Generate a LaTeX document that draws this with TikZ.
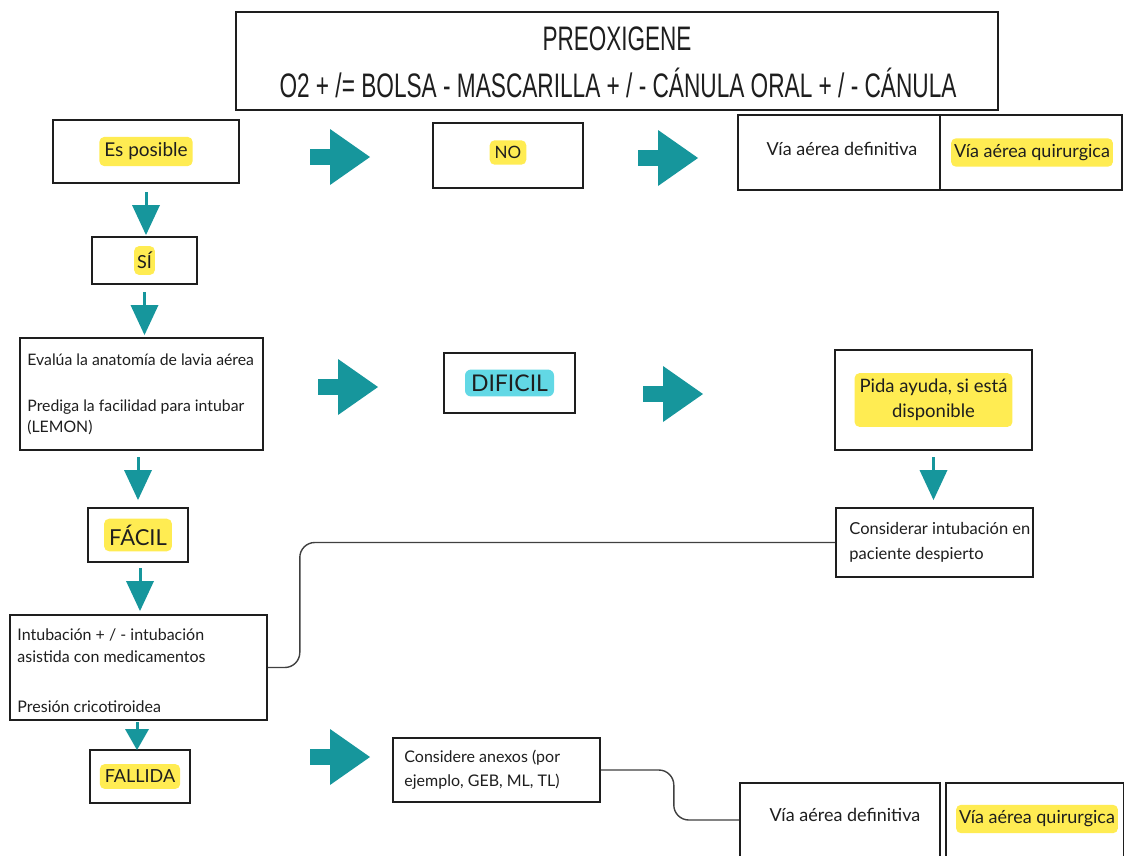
\documentclass[tikz,border=0pt]{standalone}
\usepackage{graphicx}
\usepackage{fontspec}
\setmainfont{Lato}
\newfontfamily\titlefont{Liberation Sans}
\usetikzlibrary{calc}
\definecolor{tealA}{RGB}{22,150,156}
\definecolor{hlyellow}{RGB}{255,236,82}
\definecolor{hlcyan}{RGB}{98,216,229}
\definecolor{ink}{RGB}{30,30,30}
\tikzset{
  box/.style={draw=ink,line width=1.6pt,fill=white,inner sep=0pt},
  hl/.style={fill=hlyellow,rounded corners=5pt,inner xsep=5pt,inner ysep=6pt,text=ink},
  hlc/.style={fill=hlcyan,rounded corners=6pt,inner xsep=6pt,inner ysep=5pt,text=ink},
  txt/.style={text=ink,inner sep=0pt},
  conn/.style={draw=ink!85,line width=1.4pt,rounded corners=15pt},
  darrow/.pic={\fill[tealA] (-14,13) -- (14,13) -- (0,43) -- cycle;
               \draw[tealA,line width=3pt] (0,0) -- (0,14);},
  darrowshort/.pic={\fill[tealA] (-12,7) -- (12,7) -- (0,28) -- cycle;
               \draw[tealA,line width=3pt] (0,0) -- (0,8);},
  rarrow/.pic={\fill[tealA] (-30,-8) rectangle (-5,8);
               \fill[tealA] (-10,-28) -- (30,0) -- (-10,28) -- cycle;}
}
\begin{document}
\begin{tikzpicture}[x=1pt,y=-1pt]
\useasboundingbox[fill=white] (0,0) rectangle (1124,855);
\clip (0,0) rectangle (1124,855);

% title
\node[box, minimum width=762pt, minimum height=98pt] (title) at (617,61) {};
\node[txt, anchor=base, font=\titlefont\fontsize{34}{40}\selectfont] (t1) at (617,50) {\resizebox{149pt}{\height}{PREOXIGENE}};
\node[txt, anchor=base, font=\titlefont\fontsize{34}{40}\selectfont] (t2) at (618,97) {\resizebox{677pt}{\height}{O2 + /= BOLSA - MASCARILLA + / - CÁNULA ORAL + / - CÁNULA}};

% left column
\node[box, minimum width=186pt, minimum height=63pt] (es) at (146,151.5) {};
\node[hl, font=\fontsize{19}{22}\selectfont] (tes) at (es) {Es posible};

\node[box, minimum width=105pt, minimum height=47pt] (si) at (144.5,260.5) {};
\node[hl, inner xsep=3pt, font=\fontsize{18}{21}\selectfont] (tsi) at (si) {SÍ};

\node[box, minimum width=243pt, minimum height=112pt] (eval) at (141.5,394) {};
\node[txt, anchor=west, align=left, font=\fontsize{15.8}{21}\selectfont] (teval) at ([xshift=8pt]eval.west) {Evalúa la anatomía de lavia aérea\\[25pt]Prediga la facilidad para intubar\\(LEMON)};

\node[box, minimum width=100pt, minimum height=54pt] (facil) at (138,535) {};
\node[hl, font=\fontsize{22}{25}\selectfont] (tfacil) at (facil) {FÁCIL};

\node[box, minimum width=257pt, minimum height=105pt] (intub) at (138.5,667.5) {};
\node[txt, anchor=west, align=left, font=\fontsize{16}{22}\selectfont] (tintub) at ([xshift=8pt,yshift=-3pt]intub.west) {Intubación + / - intubación\\asistida con medicamentos\\[28pt]Presión cricotiroidea};

\node[box, minimum width=100pt, minimum height=53pt] (fall) at (140,776.5) {};
\node[hl, font=\fontsize{18}{21}\selectfont] (tfall) at (fall) {FALLIDA};

% top row
\node[box, minimum width=150pt, minimum height=65pt] (no) at (508,155.5) {};
\node[hl, font=\fontsize{17}{20}\selectfont] (tno) at ([yshift=3pt]no.center) {NO};

\node[box, minimum width=202pt, minimum height=75pt] (def1) at (839,152.5) {};
\node[txt, font=\fontsize{18}{21}\selectfont] (tdef1) at ([xshift=3pt,yshift=4pt]def1.center) {Vía aérea definitiva};
\node[box, minimum width=182pt, minimum height=75pt] (quir1) at (1031,152.5) {};
\node[hl, inner xsep=3pt, font=\fontsize{18}{21}\selectfont] (tquir1) at ([xshift=1pt]quir1.center) {Vía aérea quirurgica};

% middle row
\node[box, minimum width=131pt, minimum height=60pt] (dif) at (509.5,383) {};
\node[hlc, font=\fontsize{23}{26}\selectfont] (tdif) at (dif) {DIFICIL};

\node[box, minimum width=197pt, minimum height=100pt] (pida) at (933.5,400) {};
\node[hl, align=center, font=\fontsize{18.5}{25}\selectfont] (tpida) at (pida) {Pida ayuda, si está\\disponible};

\node[box, minimum width=197pt, minimum height=69pt] (cons) at (934.5,542.5) {};
\node[txt, anchor=west, align=left, font=\fontsize{16.5}{25}\selectfont] (tcons) at ([xshift=14pt]cons.west) {Considerar intubación en\\paciente despierto};

% bottom row
\node[box, minimum width=207pt, minimum height=64pt] (anex) at (496.5,770) {};
\node[txt, anchor=west, align=left, font=\fontsize{16}{24}\selectfont] (tanex) at ([xshift=12pt]anex.west) {Considere anexos (por\\ejemplo, GEB, ML, TL)};

\node[box, minimum width=200pt, minimum height=74pt] (def2) at (840,820) {};
\node[txt, font=\fontsize{18}{21}\selectfont] (tdef2) at ([xshift=5pt,yshift=5pt]def2.center) {Vía aérea definitiva};
\node[box, minimum width=178pt, minimum height=74pt] (quir2) at (1035,820) {};
\node[hl, inner xsep=3pt, font=\fontsize{18}{21}\selectfont] (tquir2) at ([xshift=2pt,yshift=1pt]quir2.center) {Vía aérea quirurgica};

% connectors
\draw[conn] (intub.east) -- ++(32,0) |- (cons.west);
\draw[conn] (anex.east) -- ++(73,0) |- (def2.west);

% down arrows
\pic at (es.south |- 0,192) {darrow};
\pic at (si.south |- 0,292) {darrow};
\pic at (facil.north |- 0,457) {darrow};
\pic at ([xshift=2pt]facil.south |- 0,568) {darrow};
\pic at ([xshift=-3pt]fall.north |- 0,722) {darrowshort};
\pic at (pida.south |- 0,457) {darrow};

% right arrows
\pic at (340,157) {rarrow};
\pic at (668,158) {rarrow};
\pic at (348,387) {rarrow};
\pic at (673,394) {rarrow};
\pic at (340,757) {rarrow};
\end{tikzpicture}
\end{document}
